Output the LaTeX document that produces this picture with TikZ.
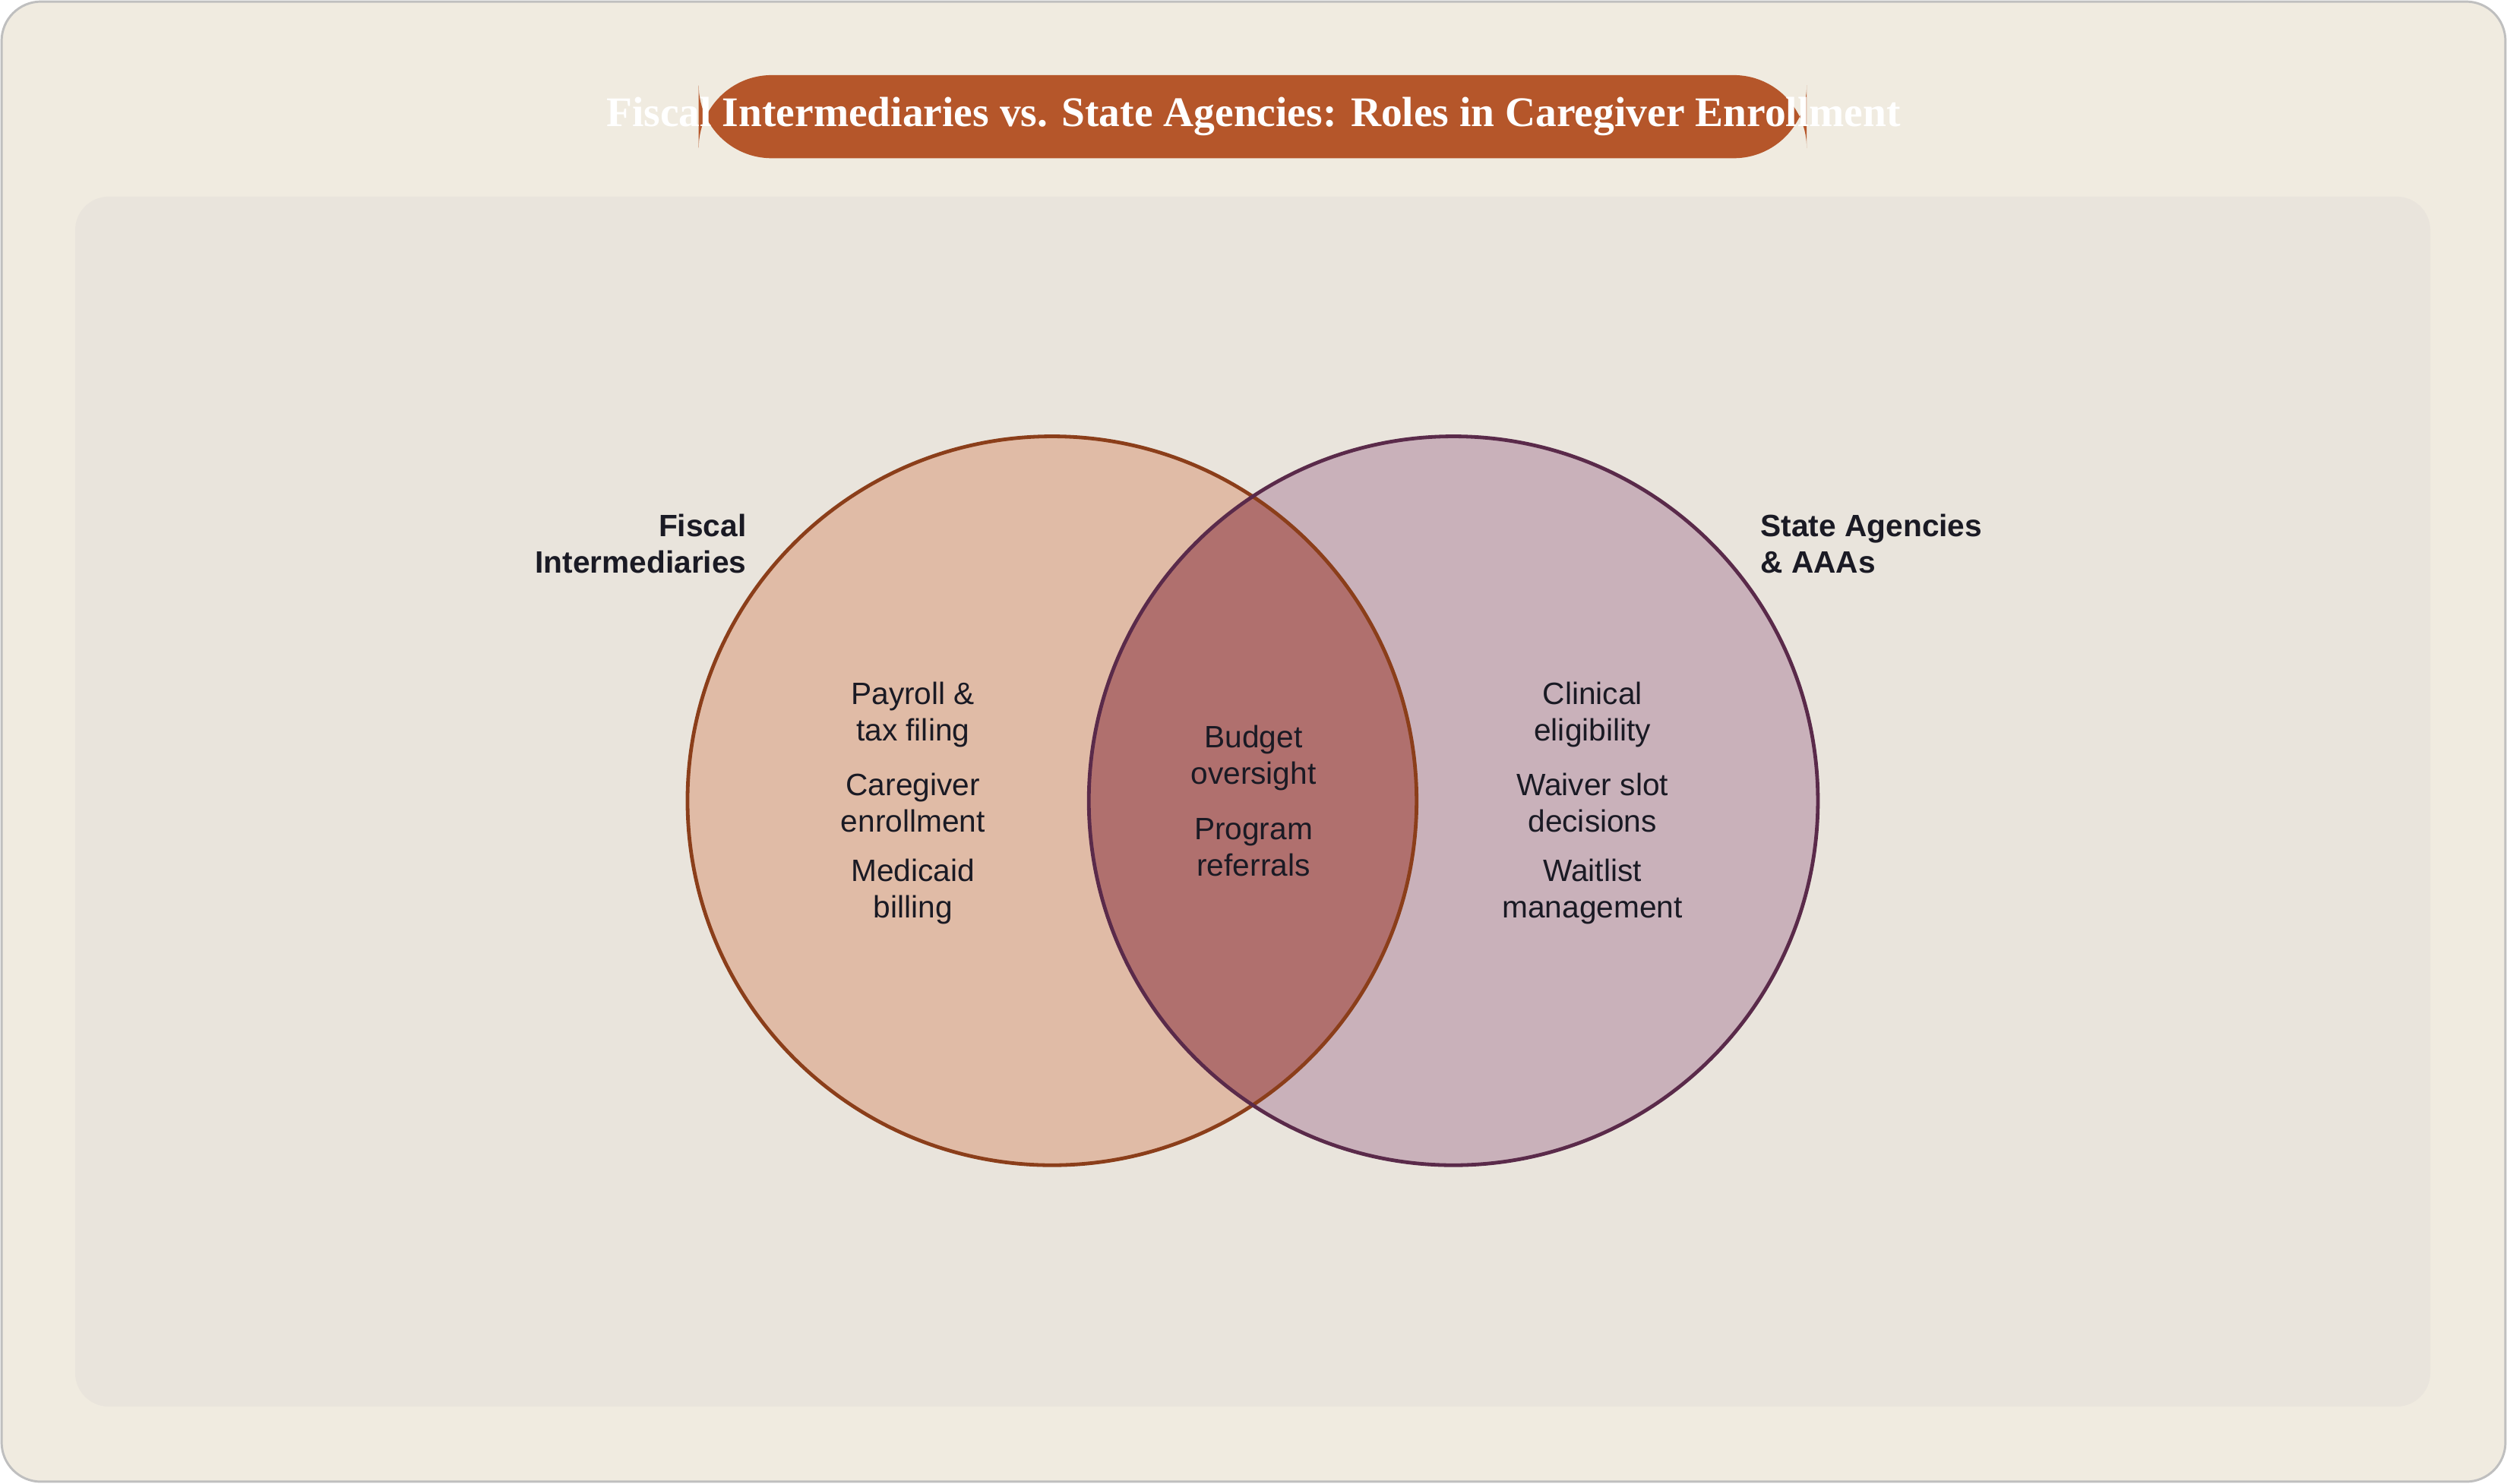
\documentclass[tikz,border=0pt]{standalone}
\usepackage{fontspec}
\setmainfont{Liberation Sans}
\newfontfamily\titlefont{Liberation Serif}
\usetikzlibrary{positioning}
\definecolor{pagebg}{HTML}{F0EBE0}
\definecolor{panelbg}{HTML}{E9E4DC}
\definecolor{titlebg}{HTML}{B5562A}
\definecolor{fiscalfill}{HTML}{E0BBA6}
\definecolor{fiscalline}{HTML}{8B3E1A}
\definecolor{statefill}{HTML}{C9B1BA}
\definecolor{stateline}{HTML}{5A2A4A}
\definecolor{bothfill}{HTML}{B0706E}
\definecolor{ink}{HTML}{1A1A24}
\tikzset{
  role/.style={align=center, text=ink, font=\fontsize{11}{13}\selectfont},
  group/.style={text=ink, font=\bfseries\fontsize{11}{13}\selectfont},
}
\begin{document}
\begin{tikzpicture}[x=0.02cm, y=-0.02cm]
    \useasboundingbox (0,0) rectangle (1568,928);
    \draw [rounded corners=14, fill=pagebg, draw=black!25, line width=0.8pt]
          (1,1) rectangle (1567,927);
    \fill [rounded corners=12, panelbg] (47,123) rectangle (1520,880);
    % title
    \fill [rounded corners=26, titlebg] (437,47) rectangle (1130,99);
    \node [text=white, font=\titlefont\bfseries\fontsize{15}{18}\selectfont]
          (title) at (784,73)
          {Fiscal Intermediaries vs. State Agencies: Roles in Caregiver Enrollment};
    % circles
    \fill [fiscalfill] (658,501) circle (228);
    \fill [statefill] (909,501) circle (228);
    \begin{scope}
      \clip (658,501) circle (228);
      \fill [bothfill] (909,501) circle (228);
    \end{scope}
    \draw [fiscalline, line width=1.3pt] (658,501) circle (228);
    \draw [stateline, line width=1.3pt] (909,501) circle (228);
    % group labels
    \node [group, align=right, anchor=east] (fiscal) at (473,340)
          {Fiscal\\Intermediaries};
    \node [group, align=left, anchor=west] (state) at (1095,340)
          {State Agencies\\\& AAAs};
    % roles
    \node [role] (payroll) at (571,447) {Payroll \&\\tax filing};
    \node [role] (enroll) at (571,502) {Caregiver\\enrollment};
    \node [role] (billing) at (571,558) {Medicaid\\billing};
    \node [role] (budget) at (784,474) {Budget\\oversight};
    \node [role] (referral) at (784,530) {Program\\referrals};
    \node [role] (clinical) at (996,447) {Clinical\\eligibility};
    \node [role] (waiver) at (996,502) {Waiver slot\\decisions};
    \node [role] (waitlist) at (996,558) {Waitlist\\management};
\end{tikzpicture}
\end{document}
